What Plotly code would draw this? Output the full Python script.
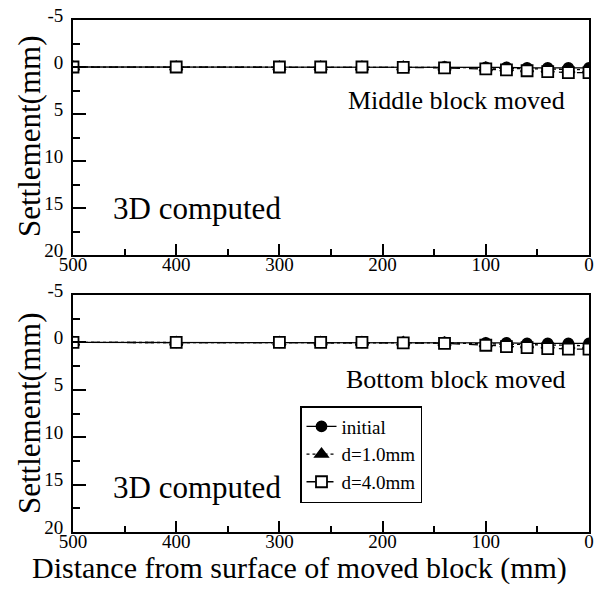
import plotly.graph_objects as go
from plotly.subplots import make_subplots

# Distance from surface of moved block (mm)
distance = [500, 400, 300, 260, 220, 180, 140, 100, 80, 60, 40, 20, 0]

# Middle block moved (settlement, mm)
mid_initial = [0.0, 0.0, 0.0, 0.0, 0.0, 0.0, 0.0, 0.05, 0.05, 0.1, 0.1, 0.1, 0.1]
mid_d1 = [0.0, 0.0, 0.0, 0.0, 0.0, 0.0, 0.05, 0.1, 0.15, 0.2, 0.25, 0.3, 0.3]
mid_d4 = [0.0, 0.0, 0.0, 0.0, 0.0, 0.05, 0.1, 0.2, 0.3, 0.4, 0.5, 0.6, 0.6]

# Bottom block moved (settlement, mm)
bot_initial = [0.0, 0.0, 0.0, 0.0, 0.0, 0.0, 0.0, 0.05, 0.05, 0.1, 0.1, 0.1, 0.1]
bot_d1 = [0.0, 0.0, 0.0, 0.0, 0.0, 0.0, 0.05, 0.15, 0.2, 0.25, 0.3, 0.35, 0.35]
bot_d4 = [0.0, 0.0, 0.0, 0.0, 0.0, 0.05, 0.1, 0.3, 0.45, 0.55, 0.65, 0.7, 0.7]

series_names = ["initial", "d=1.0mm", "d=4.0mm"]
x_ticks = [500, 400, 300, 200, 100, 0]
y_ticks = [-5, 0, 5, 10, 15, 20]
y_tick_labels = ["-5", "0", "5", "10", "15", "20"]

FONT = "Liberation Serif, Times New Roman, serif"

W, H = 595, 590
fig = make_subplots(rows=2, cols=1)

styles = [
    dict(symbol="circle", fill="black", dash="solid", size=10),
    dict(symbol="triangle-up", fill="black", dash="dot", size=11),
    dict(symbol="square", fill="white", dash="dash", size=11),
]

for row, data in [(1, [mid_initial, mid_d1, mid_d4]), (2, [bot_initial, bot_d1, bot_d4])]:
    for name, ys, st in zip(series_names, data, styles):
        fig.add_trace(
            go.Scatter(
                x=distance, y=ys, name=name, mode="lines+markers",
                line=dict(color="black", width=1.3, dash=st["dash"]),
                marker=dict(symbol=st["symbol"], size=st["size"], color=st["fill"],
                            line=dict(color="black", width=1.8)),
                showlegend=(row == 2),
            ),
            row=row, col=1,
        )

def px_x(p):
    return p / W

def py(p):
    return 1 - p / H

xdom = [px_x(73), px_x(589)]
axis_common = dict(
    showline=True, linecolor="black", linewidth=1.8, mirror=True,
    ticks="inside", tickwidth=1.8, tickcolor="black",
    showgrid=False, zeroline=False, automargin=False,
    tickfont=dict(family=FONT, size=19, color="black"),
)

for i, (top, bot) in enumerate([(20, 255), (295, 532)], start=1):
    fig.update_xaxes(
        domain=xdom, range=[500, 0], tickvals=x_ticks, ticklen=11,
        minor=dict(dtick=50, tick0=0, ticks="inside", ticklen=6, tickcolor="black", tickwidth=1.8),
        ticklabelstandoff=-9,
        row=i, col=1, **axis_common,
    )
    fig.update_yaxes(
        domain=[py(bot), py(top)], range=[20, -5], tickvals=y_ticks, ticktext=y_tick_labels,
        ticklen=13,
        minor=dict(dtick=2.5, tick0=0, ticks="inside", ticklen=7, tickcolor="black", tickwidth=1.8),
        ticklabelstandoff=4, ticklabelshift=5,
        row=i, col=1, **axis_common,
    )

ann_font = dict(family=FONT, color="black")
annotations = [
    dict(x=px_x(456), y=py(101), text="Middle block moved", font=dict(size=26, **ann_font)),
    dict(x=px_x(111), y=py(208), text="3D computed", xanchor="left", font=dict(size=31, **ann_font)),
    dict(x=px_x(456), y=py(379), text="Bottom block moved", font=dict(size=26, **ann_font)),
    dict(x=px_x(111), y=py(487), text="3D computed", xanchor="left", font=dict(size=31, **ann_font)),
    dict(x=px_x(29), y=py(137), text="Settlement(mm)", textangle=-90, font=dict(size=31, **ann_font)),
    dict(x=px_x(29), y=py(414), text="Settlement(mm)", textangle=-90, font=dict(size=31, **ann_font)),
    dict(x=px_x(299), y=py(568), text="Distance from surface of moved block (mm)",
         font=dict(size=30, **ann_font)),
]
for a in annotations:
    a.update(xref="paper", yref="paper", showarrow=False)
    a.setdefault("xanchor", "center")
    a["yanchor"] = "middle"

fig.update_layout(
    width=W, height=H,
    margin=dict(l=0, r=0, t=0, b=0, autoexpand=False),
    paper_bgcolor="white", plot_bgcolor="white",
    annotations=annotations,
    legend=dict(
        x=px_x(300), y=py(406), xanchor="left", yanchor="top",
        bgcolor="white", bordercolor="black", borderwidth=1.5,
        font=dict(family=FONT, size=19, color="black"),
        tracegroupgap=0, itemwidth=30,
    ),
)

fig.write_html("out.html")
